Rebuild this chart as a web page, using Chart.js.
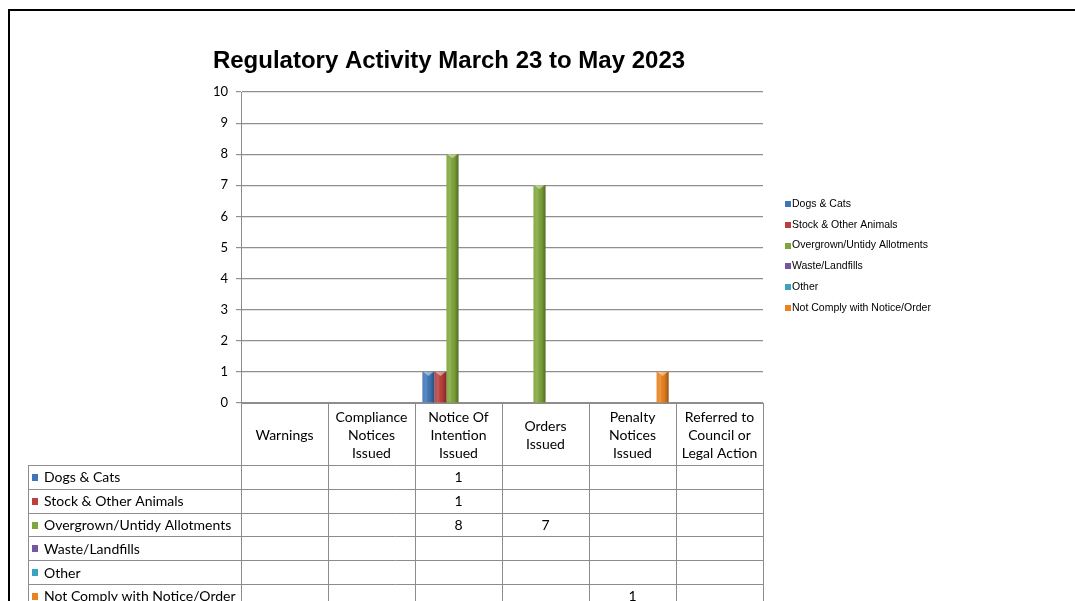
<!DOCTYPE html>
<html>
<head>
<meta charset="utf-8">
<script src="https://cdn.jsdelivr.net/npm/chart.js@4/dist/chart.umd.min.js"></script>
<style>
  html, body { margin: 0; padding: 0; background: #fff; overflow: hidden; }
  canvas { display: block; }
</style>
</head>
<body>
<canvas id="regChart" width="1075" height="601"></canvas>
<script>
// categories (header lines as shown in the data table)
var categories = [
  ['Warnings'],
  ['Compliance', 'Notices', 'Issued'],
  ['Notice Of', 'Intention', 'Issued'],
  ['Orders', 'Issued'],
  ['Penalty', 'Notices', 'Issued'],
  ['Referred to', 'Council or', 'Legal Action']
];
var seriesNames = ['Dogs & Cats', 'Stock & Other Animals', 'Overgrown/Untidy Allotments', 'Waste/Landfills', 'Other', 'Not Comply with Notice/Order'];
var dogsCats     = [null, null, 1, null, null, null];
var stockAnimals = [null, null, 1, null, null, null];
var overgrown    = [null, null, 8, 7, null, null];
var wasteLand    = [null, null, null, null, null, null];
var otherItems   = [null, null, null, null, null, null];
var notComply    = [null, null, null, null, 1, null];
var yTicks = [0, 1, 2, 3, 4, 5, 6, 7, 8, 9, 10];

var seriesValues = [dogsCats, stockAnimals, overgrown, wasteLand, otherItems, notComply];
var colours = ['#3F76B8', '#BC3F3C', '#7FA63A', '#7557A0', '#3AA3C0', '#E9821F'];

var tableFont = 'Lato, "Open Sans", sans-serif';

var tablePlugin = {
  id: 'tablePlugin',
  beforeDraw: function (chart) {
    var c = chart.ctx;
    c.save();
    c.fillStyle = '#fff';
    c.fillRect(0, 0, chart.width, chart.height);
    c.restore();
  },
  afterDatasetsDraw: function (chart) {
    // cylinder-like shading on bars
    var c = chart.ctx;
    chart.data.datasets.forEach(function (ds, di) {
      chart.getDatasetMeta(di).data.forEach(function (bar, i) {
        if (ds.data[i] == null) return;
        var l = bar.x - bar.width / 2, r = bar.x + bar.width / 2;
        var g = c.createLinearGradient(l, 0, r, 0);
        g.addColorStop(0, 'rgba(255,255,255,0.05)');
        g.addColorStop(0.3, 'rgba(255,255,255,0.15)');
        g.addColorStop(0.65, 'rgba(0,0,0,0.05)');
        g.addColorStop(1, 'rgba(0,0,0,0.35)');
        c.save();
        c.fillStyle = g;
        c.fillRect(l, bar.y, bar.width, bar.base - bar.y);
        c.fillStyle = 'rgba(255,255,255,0.45)';
        c.beginPath();
        c.moveTo(l + 1, bar.y);
        c.lineTo(r - 1, bar.y);
        c.lineTo(bar.x, bar.y + 4);
        c.closePath();
        c.fill();
        c.restore();
      });
    });
  },
  afterDraw: function (chart) {
    var c = chart.ctx;
    var x = chart.scales.x;
    var area = chart.chartArea;
    var n = categories.length;
    var colW = (x.right - x.left) / n;
    var tableLeft = 28, headBottom = 465, rowH = 23.8;
    c.save();

    // title
    c.fillStyle = '#000';
    c.font = 'bold 24px "Liberation Sans", Arial, sans-serif';
    c.textAlign = 'center';
    c.textBaseline = 'middle';
    c.fillText('Regulatory Activity March 23 to May 2023', 449, 61);

    // table lines
    c.strokeStyle = '#8c8c8c';
    c.lineWidth = 1;
    c.beginPath();
    for (var i = 0; i <= n; i++) {
      var xx = Math.round(x.left + i * colW) + 0.5;
      c.moveTo(xx, area.bottom);
      c.lineTo(xx, chart.height);
    }
    c.moveTo(tableLeft + 0.5, headBottom);
    c.lineTo(tableLeft + 0.5, chart.height);
    for (var r = 0; r <= seriesNames.length; r++) {
      var yy = Math.round(headBottom + r * rowH) + 0.5;
      c.moveTo(tableLeft, yy);
      c.lineTo(x.right, yy);
    }
    c.stroke();

    // header texts
    c.fillStyle = '#000';
    c.font = '14px ' + tableFont;
    c.textAlign = 'center';
    categories.forEach(function (lines, ci) {
      var cx = x.getPixelForValue(ci);
      var mid = (area.bottom + headBottom) / 2 + 1;
      lines.forEach(function (t, li) {
        c.fillText(t, cx, mid + (li - (lines.length - 1) / 2) * 18);
      });
    });

    // rows
    seriesNames.forEach(function (name, si) {
      var cy = headBottom + si * rowH + rowH / 2 + 1;
      c.fillStyle = colours[si];
      c.fillRect(32, Math.round(cy - 4), 6, 7);
      c.fillStyle = '#000';
      c.textAlign = 'left';
      c.fillText(name, 44, cy);
      c.textAlign = 'center';
      seriesValues[si].forEach(function (v, ci) {
        if (v == null) return;
        c.fillText(String(v), x.getPixelForValue(ci), cy);
      });
    });

    // legend
    c.font = '10.5px "Liberation Sans", Arial, sans-serif';
    c.textAlign = 'left';
    seriesNames.forEach(function (name, si) {
      var ly = 204 + si * 20.8;
      c.fillStyle = colours[si];
      c.fillRect(785, Math.round(ly - 3), 6, 6);
      c.fillStyle = '#000';
      c.fillText(name, 792, ly);
    });

    // outer frame
    c.fillStyle = '#000';
    c.fillRect(8, 9, chart.width - 8, 2);
    c.fillRect(8, 9, 2, chart.height - 9);
    c.restore();
  }
};

var ctx = document.getElementById('regChart').getContext('2d');
var regChart = new Chart(ctx, {
  type: 'bar',
  data: {
    labels: categories.map(function (l) { return l.join(' '); }),
    datasets: seriesNames.map(function (name, i) {
      return {
        label: name,
        data: seriesValues[i],
        backgroundColor: colours[i],
        borderWidth: 0
      };
    })
  },
  options: {
    responsive: false,
    animation: false,
    layout: { padding: { left: 10, right: 312, top: 92, bottom: 0 } },
    datasets: { bar: { categoryPercentage: 0.83, barPercentage: 1 } },
    plugins: {
      legend: { display: false },
      title: { display: false },
      tooltip: { enabled: false }
    },
    scales: {
      x: {
        grid: { display: false },
        border: { color: '#8c8c8c' },
        ticks: { display: false },
        afterFit: function (s) { s.height = 198; }
      },
      y: {
        min: 0,
        max: 10,
        afterBuildTicks: function (s) { s.ticks = yTicks.map(function (v) { return { value: v }; }); },
        ticks: { padding: 8, color: '#000', font: { size: 13, family: tableFont } },
        grid: { color: '#8f8f8f', tickLength: 5, lineWidth: 1.2 },
        border: { color: '#8c8c8c' },
        afterFit: function (s) { s.width = 231; }
      }
    }
  },
  plugins: [tablePlugin]
});
</script>
</body>
</html>
